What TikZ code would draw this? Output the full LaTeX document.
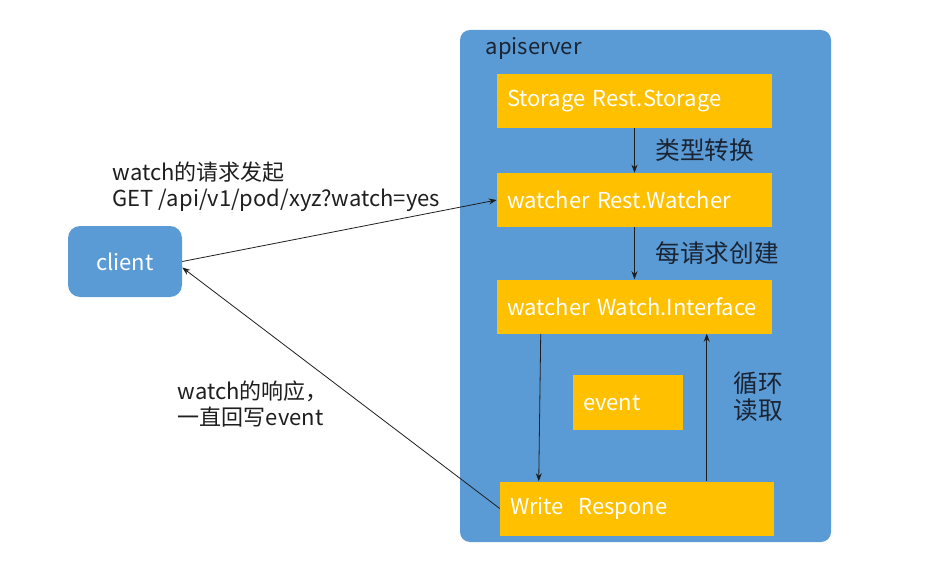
\documentclass[tikz,border=0pt]{standalone}
\usepackage{fontspec}
\setmainfont{Noto Sans CJK SC}
\usepackage{tikz}
\usetikzlibrary{arrows.meta, positioning, calc}

\definecolor{panelblue}{HTML}{5B9BD5}
\definecolor{boxyellow}{HTML}{FFC000}
\definecolor{inktext}{HTML}{1E1E1E}
\definecolor{navytext}{HTML}{1A2433}

\begin{document}
\begin{tikzpicture}
[
    x=0.75pt, y=-0.75pt,
    font=\fontsize{16.5}{19.5}\selectfont,
    box/.style={
        fill=boxyellow,
        rectangle,
        text=white,
        minimum height=40.5pt,
        inner xsep=7.5pt,
        align=left,
    },
    clientbox/.style={
        fill=panelblue,
        rectangle,
        rounded corners=9pt,
        text=white,
        minimum width=85.5pt,
        minimum height=53.25pt,
    },
    note/.style={text=inktext, align=left},
    cjknote/.style={text=navytext, font=\fontsize{18.5}{20.5}\selectfont},
    arrow/.style={-{Stealth[length=6pt,width=4.5pt]}, line width=0.6pt, inktext}
]
\useasboundingbox (0,0) rectangle (933,585);

% The apiserver panel
\fill[panelblue, rounded corners=7.5pt] (460,30) rectangle (831,542);
\node[note, anchor=west, text=navytext] (apiserver) at (481,48) {apiserver};

% Define the nodes
\node[box, text width=191.25pt] (storage) at (634.5,101) {Storage Rest.Storage};
\node[box, text width=191.25pt] (rwatcher) at (634.5,200) {watcher Rest.Watcher};
\node[box, text width=191.25pt] (iface) at (634.5,306.5) {watcher Watch.Interface};
\node[box, text width=67.5pt, minimum height=41.25pt] (event) at (628,402.5) {event};
\node[box, text width=190.5pt] (write) at (637,508.5) {Write~~Respone};
\node[clientbox] (client) at (125,261.5) {client};

% Arrows inside the panel
\draw[arrow] (storage.south) -- node[cjknote, right, xshift=12pt] {类型转换} (rwatcher.north);
\draw[arrow] (rwatcher.south) -- node[cjknote, right, xshift=12pt] {每请求创建} (iface.north);
\draw[arrow] ($(iface.south west)+(44,0)$) -- ($(write.north west)+(39,0)$);
\draw[arrow] ($(write.north west)+(207,0)$) -- ($(iface.south west)+(210,0)$);
\node[cjknote, align=center] (loop) at (758,397) {循环\\读取};

% Request and response between client and apiserver
\draw[arrow] (client.east) -- (rwatcher.west);
\draw[arrow] (write.west) -- ($(client.east)+(0,6)$);
\node[note, anchor=west] (request) at (108,187) {watch的请求发起\\GET /api/v1/pod/xyz?watch=yes};
\node[note, anchor=west] (response) at (173,404) {watch的响应，\\一直回写event};

\end{tikzpicture}
\end{document}
